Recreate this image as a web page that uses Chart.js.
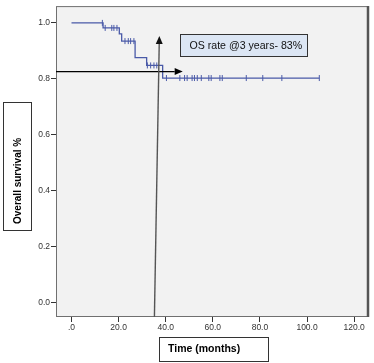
<!DOCTYPE html>
<html><head><meta charset="utf-8">
<script src="https://cdn.jsdelivr.net/npm/chart.js@4.4.0/dist/chart.umd.min.js"></script>
<style>html,body{margin:0;padding:0;background:#fff;}canvas{display:block}</style>
</head><body>
<canvas id="c" width="374" height="363"></canvas>
<script>
// Kaplan-Meier step curve (event times and survival after each event)
const eventTimes = [0, 13.4, 20.3, 21.3, 27.0, 31.9, 38.7, 105.2];
const survival   = [1.0, 0.982, 0.961, 0.935, 0.876, 0.848, 0.803, 0.803];
// Censored observations
const censorTimes = [13.1, 14.3, 17.1, 18.0, 19.3, 22.7, 24.1, 25.1, 26.5, 32.2, 33.6, 35.0, 36.2,
  40.3, 46.0, 48.0, 49.1, 51.2, 52.2, 53.4, 55.1, 58.3, 59.3, 63.0, 64.0, 74.2, 81.2, 89.3, 105.2];
const censorSurvival = [1.0, 0.982, 0.982, 0.982, 0.982, 0.935, 0.935, 0.935, 0.935, 0.848, 0.848, 0.848, 0.848,
  0.803, 0.803, 0.803, 0.803, 0.803, 0.803, 0.803, 0.803, 0.803, 0.803, 0.803, 0.803, 0.803, 0.803, 0.803, 0.803];
const xTickValues = [0, 20, 40, 60, 80, 100, 120];
const xTickLabels = [".0", "20.0", "40.0", "60.0", "80.0", "100.0", "120.0"];
const yTickValues = [0, 0.2, 0.4, 0.6, 0.8, 1.0];
const yTickLabels = ["0.0", "0.2", "0.4", "0.6", "0.8", "1.0"];
const xTitle = "Time (months)";
const yTitle = "Overall survival %";
const noteText = "OS rate @3 years- 83%";
// annotation anchors in data units
const noteAnchor = {rateY: 0.826, hArrowEndX: 47.2, vArrowBottomX: 35.2, vArrowTopX: 37.3, vArrowTopY: 0.953,
  boxX1: 46.1, boxX2: 100, boxY1: 0.962, boxY2: 0.880};

const lineColor = '#4a5aa8';

function arrow(ctx, x1, y1, x2, y2, lc, hc) {
  const ang = Math.atan2(y2 - y1, x2 - x1);
  const L = 8, W = 3.5;
  const bx = x2 - Math.cos(ang) * L, by = y2 - Math.sin(ang) * L;
  ctx.strokeStyle = lc; ctx.lineWidth = 1.4;
  ctx.beginPath(); ctx.moveTo(x1, y1); ctx.lineTo(bx, by); ctx.stroke();
  ctx.fillStyle = hc;
  ctx.beginPath();
  ctx.moveTo(x2, y2);
  ctx.lineTo(bx + Math.sin(ang) * W, by - Math.cos(ang) * W);
  ctx.lineTo(bx - Math.sin(ang) * W, by + Math.cos(ang) * W);
  ctx.closePath(); ctx.fill();
}

const decor = {
  id: 'decor',
  beforeDraw(chart) {
    const ctx = chart.ctx, a = chart.chartArea;
    ctx.save();
    ctx.fillStyle = '#ffffff'; ctx.fillRect(0, 0, chart.width, chart.height);
    ctx.fillStyle = '#f2f2f2'; ctx.fillRect(a.left, a.top, a.right - a.left, a.bottom - a.top);
    ctx.restore();
  },
  afterDatasetsDraw(chart) {
    const ctx = chart.ctx, a = chart.chartArea, xs = chart.scales.x, ys = chart.scales.y;
    ctx.save();
    // frame
    ctx.strokeStyle = '#707070'; ctx.lineWidth = 1;
    ctx.strokeRect(a.left + 0.5, a.top + 0.5, a.right - a.left - 1, a.bottom - a.top - 1);
    ctx.strokeStyle = '#555555'; ctx.lineWidth = 2.5;
    ctx.beginPath(); ctx.moveTo(a.right - 1, a.top); ctx.lineTo(a.right - 1, a.bottom); ctx.stroke();
    // arrows
    const n = noteAnchor;
    arrow(ctx, a.left, ys.getPixelForValue(n.rateY), xs.getPixelForValue(n.hArrowEndX), ys.getPixelForValue(n.rateY), '#000', '#000');
    arrow(ctx, xs.getPixelForValue(n.vArrowBottomX), a.bottom, xs.getPixelForValue(n.vArrowTopX), ys.getPixelForValue(n.vArrowTopY), '#555', '#111');
    // note box
    const bx1 = Math.round(xs.getPixelForValue(n.boxX1)) + 0.5, bx2 = Math.round(xs.getPixelForValue(n.boxX2)) + 0.5;
    const by1 = Math.round(ys.getPixelForValue(n.boxY1)) + 0.5, by2 = Math.round(ys.getPixelForValue(n.boxY2)) + 0.5;
    ctx.fillStyle = '#dce6f4'; ctx.fillRect(bx1, by1, bx2 - bx1, by2 - by1);
    ctx.strokeStyle = '#333'; ctx.lineWidth = 1; ctx.strokeRect(bx1, by1, bx2 - bx1, by2 - by1);
    ctx.fillStyle = '#111'; ctx.font = '10.6px "Liberation Sans", Arial, sans-serif';
    ctx.textBaseline = 'middle'; ctx.textAlign = 'left';
    ctx.fillText(noteText, bx1 + 9, (by1 + by2) / 2 + 0.5);
    ctx.restore();
  },
  afterDraw(chart) {
    const ctx = chart.ctx;
    ctx.save();
    ctx.strokeStyle = '#333'; ctx.lineWidth = 1; ctx.fillStyle = '#000';
    // y title box
    ctx.strokeRect(3.5, 102.5, 28, 128);
    ctx.save();
    ctx.translate(18, 224);
    ctx.rotate(-Math.PI / 2);
    ctx.font = 'bold 10px "Liberation Sans", Arial, sans-serif';
    ctx.textAlign = 'left'; ctx.textBaseline = 'middle';
    ctx.fillText(yTitle, 0, 0);
    ctx.restore();
    // x title box
    ctx.strokeRect(159.5, 337.5, 109, 24);
    ctx.font = 'bold 10.5px "Liberation Sans", Arial, sans-serif';
    ctx.textAlign = 'left'; ctx.textBaseline = 'middle';
    ctx.fillText(xTitle, 168, 349.5);
    ctx.restore();
  }
};

new Chart(document.getElementById('c'), {
  data: {
    datasets: [
      { type: 'line', data: eventTimes.map((t, i) => ({x: t, y: survival[i]})), stepped: true,
        borderColor: lineColor, borderWidth: 1.3, pointRadius: 0, fill: false },
      { type: 'scatter', data: censorTimes.map((t, i) => ({x: t, y: censorSurvival[i]})),
        pointStyle: 'line', rotation: 90, radius: 3, borderColor: lineColor, backgroundColor: lineColor, borderWidth: 1 }
    ]
  },
  options: {
    responsive: false, animation: false, devicePixelRatio: 1,
    layout: { padding: { top: 3, right: 5, left: 0, bottom: 0 } },
    plugins: { legend: { display: false }, tooltip: { enabled: false } },
    scales: {
      x: {
        type: 'linear', min: -6.58, max: 126.3,
        afterBuildTicks: s => { s.ticks = xTickValues.map(v => ({value: v})); },
        afterFit: s => { s.height = 46; },
        ticks: { callback: (v, i) => xTickLabels[i], font: { size: 8.5, family: '"Liberation Sans", Arial, sans-serif' }, color: '#333', padding: 1, maxRotation: 0, autoSkip: false },
        grid: { display: true, drawOnChartArea: false, drawTicks: true, tickLength: 5, tickColor: '#333', tickWidth: 1 },
        border: { display: false }
      },
      y: {
        type: 'linear', min: -0.0506, max: 1.06,
        afterBuildTicks: s => { s.ticks = yTickValues.map(v => ({value: v})); },
        afterFit: s => { s.width = 56; },
        ticks: { callback: (v, i) => yTickLabels[i], font: { size: 8.5, family: '"Liberation Sans", Arial, sans-serif' }, color: '#333', padding: 1, autoSkip: false },
        grid: { display: true, drawOnChartArea: false, drawTicks: true, tickLength: 5, tickColor: '#333', tickWidth: 1 },
        border: { display: false }
      }
    }
  },
  plugins: [decor]
});
</script>
</body></html>
